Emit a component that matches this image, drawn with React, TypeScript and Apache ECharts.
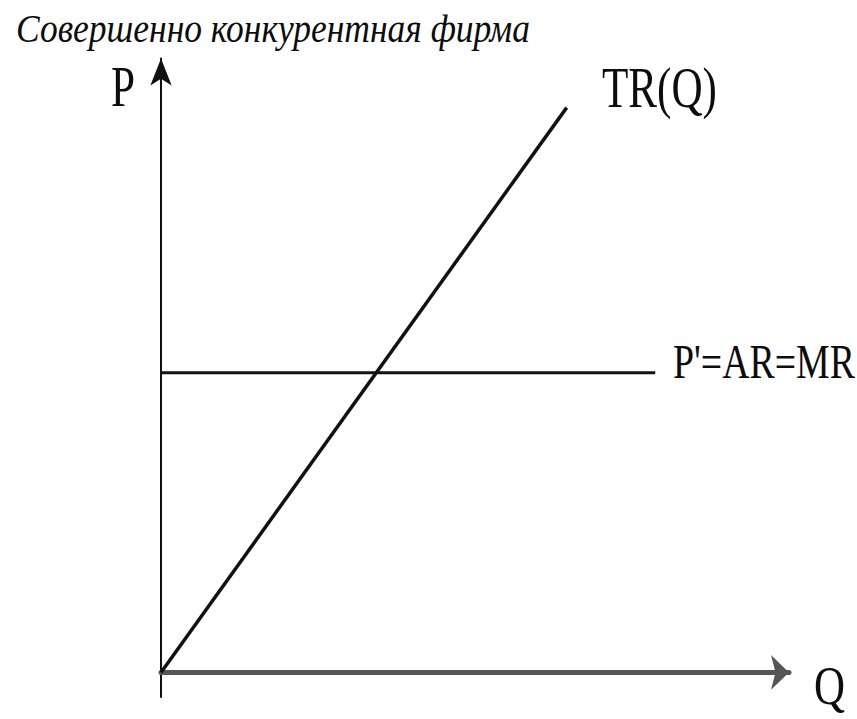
import React, { useEffect, useRef } from "react";
import * as echarts from "echarts";

// ---- data ----
const TITLE = "Совершенно конкурентная фирма";
const Y_LABEL = "P";
const X_LABEL = "Q";
const TR_LABEL = "TR(Q)";
const MR_LABEL = "P'=AR=MR";

const X_RANGE = [0, 100];
const Y_RANGE = [-4, 100];

const TR_Q = [0, 64.6];
const TR_VALUES = [0, 92];
const MR_Q = [0, 78.7];
const MR_VALUES = [48.8, 48.8];

function zip(xs: number[], ys: number[]) {
  return xs.map((x, i) => [x, ys[i]]);
}

function fitScale(text: string, font: string, target: number) {
  const c = document.createElement("canvas").getContext("2d");
  if (!c) return 1;
  c.font = font;
  const w = c.measureText(text).width;
  return w > 0 ? target / w : 1;
}

export default function App() {
  const ref = useRef<HTMLDivElement>(null);
  useEffect(() => {
    if (!ref.current) return;
    const chart = echarts.init(ref.current, undefined, { renderer: "svg" });
    const serif = "Liberation Serif";

    const label = (
      text: string,
      x: number,
      y: number,
      size: number,
      width: number,
      italic = false
    ) => {
      const font = `${italic ? "italic" : "normal"} normal ${size}px ${serif}`;
      return {
        type: "text",
        x,
        y,
        scaleX: fitScale(text, font, width),
        style: {
          text,
          font,
          fill: "#0d0d0d",
          align: "left",
          verticalAlign: "middle",
        },
      };
    };

    chart.setOption({
      animation: false,
      backgroundColor: "#ffffff",
      textStyle: { fontFamily: serif },
      grid: { left: 161, right: 68, top: 58.5, bottom: 22, containLabel: false },
      xAxis: {
        type: "value",
        min: X_RANGE[0],
        max: X_RANGE[1],
        axisLine: {
          show: true,
          onZero: true,
          symbol: ["none", "arrow"],
          symbolSize: [26, 18],
          lineStyle: { color: "#555", width: 5 },
        },
        axisTick: { show: false },
        axisLabel: { show: false },
        splitLine: { show: false },
      },
      yAxis: {
        type: "value",
        min: Y_RANGE[0],
        max: Y_RANGE[1],
        axisLine: {
          show: true,
          onZero: false,
          symbol: ["none", "arrow"],
          symbolSize: [16, 27],
          lineStyle: { color: "#111", width: 2 },
        },
        axisTick: { show: false },
        axisLabel: { show: false },
        splitLine: { show: false },
      },
      series: [
        {
          type: "line",
          data: zip(MR_Q, MR_VALUES),
          showSymbol: false,
          lineStyle: { color: "#111", width: 3 },
        },
        {
          type: "line",
          data: zip(TR_Q, TR_VALUES),
          showSymbol: false,
          lineStyle: { color: "#111", width: 3.5 },
        },
      ],
      graphic: [
        label(TITLE, 16, 28, 40, 514, true),
        label(Y_LABEL, 111, 87, 56, 24),
        label(TR_LABEL, 602, 88, 56, 115),
        label(MR_LABEL, 673, 361, 48, 182),
        label(X_LABEL, 814, 686, 54, 31),
      ],
    });
    return () => chart.dispose();
  }, []);
  return (
    <div
      ref={ref}
      style={{ position: "fixed", left: 0, top: 0, width: 857, height: 719, background: "#fff" }}
    />
  );
}
